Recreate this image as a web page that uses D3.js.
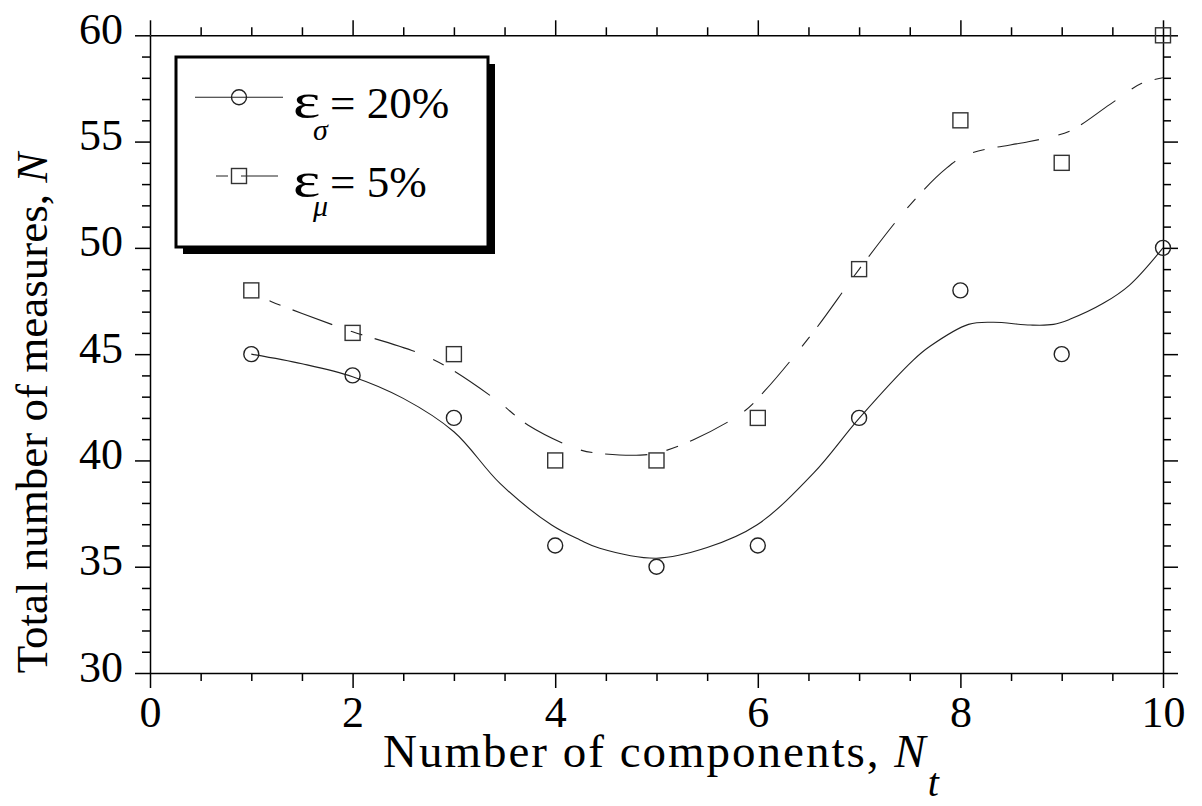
<!DOCTYPE html>
<html><head><meta charset="utf-8">
<script src="https://cdn.jsdelivr.net/npm/d3@7"></script>
<style>html,body{margin:0;padding:0;background:#fff;} svg{display:block;}</style>
</head><body><svg id="chart" width="1202" height="806"></svg>
<script>
// ---- data ----
const components = [1, 2, 3, 4, 5, 6, 7, 8, 9, 10];
const sigmaMeasures = [45, 44, 42, 36, 35, 36, 42, 48, 45, 50];
const muMeasures = [48, 46, 45, 40, 40, 42, 49, 56, 54, 60];

// fitted curves
const sigmaFitX = [1, 1.5, 2, 2.5, 3, 3.455, 3.965, 4.245, 4.44, 5, 5.5, 5.99, 6.55, 7, 7.535, 7.7, 8.08, 8.325, 8.69, 8.92, 9.08, 9.41, 9.67, 10];
const sigmaFitY = [45, 44.55, 43.94, 42.92, 41.35, 38.92, 36.96, 36.26, 35.87, 35.4, 35.9, 36.96, 39.4, 41.98, 44.72, 45.37, 46.4, 46.5, 46.37, 46.4, 46.64, 47.39, 48.25, 50];
const muFitX = [1, 1.2, 1.81, 2, 2.62, 2.93, 3.42, 3.73, 4.23, 4.44, 4.84, 5.03, 5.36, 5.86, 6.07, 6.55, 7, 7.486, 7.86, 8.08, 8.67, 8.9, 9.1, 9.477, 9.79, 10];
const muFitY = [47.9, 47.47, 46.37, 46.05, 45.11, 44.41, 42.84, 41.67, 40.52, 40.33, 40.25, 40.38, 40.96, 42.29, 43.28, 46.05, 48.99, 51.93, 53.74, 54.41, 54.99, 55.23, 55.54, 56.75, 57.74, 58.0];

const xMajorTicks = [0, 2, 4, 6, 8, 10];
const xMinorTicks = [0.5, 1, 1.5, 2.5, 3, 3.5, 4.5, 5, 5.5, 6.5, 7, 7.5, 8.5, 9, 9.5];
const yMajorTicks = [30, 35, 40, 45, 50, 55, 60];
const yMinorTicks = [31, 32, 33, 34, 36, 37, 38, 39, 41, 42, 43, 44, 46, 47, 48, 49, 51, 52, 53, 54, 56, 57, 58, 59];

const legendValues = ["= 20%", "= 5%"];
const legendSubs = ["σ", "μ"];
const xTitle = "Number of components, ";
const yTitle = "Total number of measures, ";

// ---- chart ----
const svg = d3.select("#chart");
const FONT = "'Liberation Serif', 'Times New Roman', serif";
const L = 150, R = 1163, T = 35.3, B = 673;
const x = d3.scaleLinear().domain([0, 10]).range([L, R]);
const y = d3.scaleLinear().domain([30, 60]).range([B, T]);

function axis(gen, tx, ty, ticks, size, labels) {
  const a = gen.tickValues(ticks).tickSize(size).tickSizeOuter(0);
  if (!labels) a.tickFormat("");
  const g = svg.append("g").attr("transform", `translate(${tx},${ty})`).call(a);
  g.selectAll("path.domain").attr("stroke", "#000").attr("stroke-width", 1.5);
  g.selectAll(".tick line").attr("stroke", "#000").attr("stroke-width", 1.5);
  g.selectAll("text").attr("font-family", FONT).attr("font-size", 44).attr("fill", "#000");
  return g;
}
// minor
axis(d3.axisBottom(x), 0, B, xMinorTicks, 8, false).select(".domain").remove();
axis(d3.axisTop(x), 0, T, xMinorTicks, 8, false).select(".domain").remove();
axis(d3.axisLeft(y), L, 0, yMinorTicks, 8, false).select(".domain").remove();
axis(d3.axisRight(y), R, 0, yMinorTicks, 8, false).select(".domain").remove();
// major
const gb = axis(d3.axisBottom(x).tickFormat(d3.format("d")), 0, B, xMajorTicks, 15, true);
gb.selectAll("text").attr("y", 54).attr("dy", 0);
axis(d3.axisTop(x), 0, T, xMajorTicks, 15, false);
const gl = axis(d3.axisLeft(y).tickFormat(d3.format("d")), L, 0, yMajorTicks, 15, true);
gl.selectAll("text").attr("x", -27).attr("y", 8).attr("dy", 0);
axis(d3.axisRight(y), R, 0, yMajorTicks, 15, false);

// fitted curves
const line = d3.line().x(d => x(d[0])).y(d => y(d[1])).curve(d3.curveCatmullRom.alpha(0.5));
svg.append("path").attr("d", line(d3.zip(sigmaFitX, sigmaFitY)))
  .attr("fill", "none").attr("stroke", "#222").attr("stroke-width", 1.1);
svg.append("path").attr("d", line(d3.zip(muFitX, muFitY)))
  .attr("fill", "none").attr("stroke", "#222").attr("stroke-width", 1.1)
  .attr("stroke-dasharray", "42,20,12,13").attr("stroke-dashoffset", 42);

// markers
svg.append("g").selectAll("circle").data(d3.zip(components, sigmaMeasures)).join("circle")
  .attr("cx", d => x(d[0])).attr("cy", d => y(d[1])).attr("r", 7.5)
  .attr("fill", "none").attr("stroke", "#222").attr("stroke-width", 1.4);
svg.append("g").selectAll("rect").data(d3.zip(components, muMeasures)).join("rect")
  .attr("x", d => x(d[0]) - 7.5).attr("y", d => y(d[1]) - 7.5).attr("width", 15).attr("height", 15)
  .attr("fill", "none").attr("stroke", "#333").attr("stroke-width", 1.4);

// axis titles
const xt = svg.append("text").attr("x", 383).attr("y", 767)
  .attr("font-family", FONT).attr("font-size", 47).attr("letter-spacing", 2).attr("fill", "#000");
xt.append("tspan").text(xTitle);
xt.append("tspan").attr("font-style", "italic").text("N");
xt.append("tspan").attr("font-style", "italic").attr("font-size", 40).attr("dy", 29).text("t");

const yt = svg.append("text").attr("transform", "translate(47,413) rotate(-90)")
  .attr("text-anchor", "middle")
  .attr("font-family", FONT).attr("font-size", 45).attr("fill", "#000");
yt.append("tspan").text(yTitle);
yt.append("tspan").attr("font-style", "italic").text("N");

// legend
const lg = svg.append("g");
const bx = 176, by = 57, bw = 312, bh = 190;
lg.append("rect").attr("x", bx + 7).attr("y", by + 7).attr("width", bw).attr("height", bh).attr("fill", "#000");
lg.append("rect").attr("x", bx).attr("y", by).attr("width", bw).attr("height", bh)
  .attr("fill", "#fff").attr("stroke", "#000").attr("stroke-width", 3);
const rowsY = [97.3, 176];
// row 1
lg.append("line").attr("x1", 195).attr("x2", 283).attr("y1", rowsY[0]).attr("y2", rowsY[0])
  .attr("stroke", "#222").attr("stroke-width", 1.1);
lg.append("circle").attr("cx", 239).attr("cy", rowsY[0]).attr("r", 7.5)
  .attr("fill", "none").attr("stroke", "#222").attr("stroke-width", 1.4);
// row 2
lg.append("line").attr("x1", 196).attr("x2", 278).attr("y1", rowsY[1]).attr("y2", rowsY[1])
  .attr("stroke", "#222").attr("stroke-width", 1.1)
  .attr("stroke-dasharray", "42,20,12,13").attr("stroke-dashoffset", 42);
lg.append("rect").attr("x", 239 - 7.5).attr("y", rowsY[1] - 7.5).attr("width", 15).attr("height", 15)
  .attr("fill", "none").attr("stroke", "#333").attr("stroke-width", 1.4);

legendValues.forEach((v, i) => {
  const base = rowsY[i] + 20.7;
  lg.append("text").attr("x", 293).attr("y", base).attr("font-family", FONT)
    .attr("font-size", 50).attr("fill", "#000")
    .attr("transform", `translate(${293},${base}) scale(1.3,1) translate(${-293},${-base})`)
    .text("ε");
  lg.append("text").attr("x", 330).attr("y", base).attr("font-family", FONT)
    .attr("font-size", 45).attr("fill", "#000").text(v);
  lg.append("text").attr("x", 313).attr("y", base + (i === 0 ? 22 : 19)).attr("font-family", FONT)
    .attr("font-style", "italic").attr("font-size", 30).attr("fill", "#000").text(legendSubs[i]);
});
</script>
</body></html>
